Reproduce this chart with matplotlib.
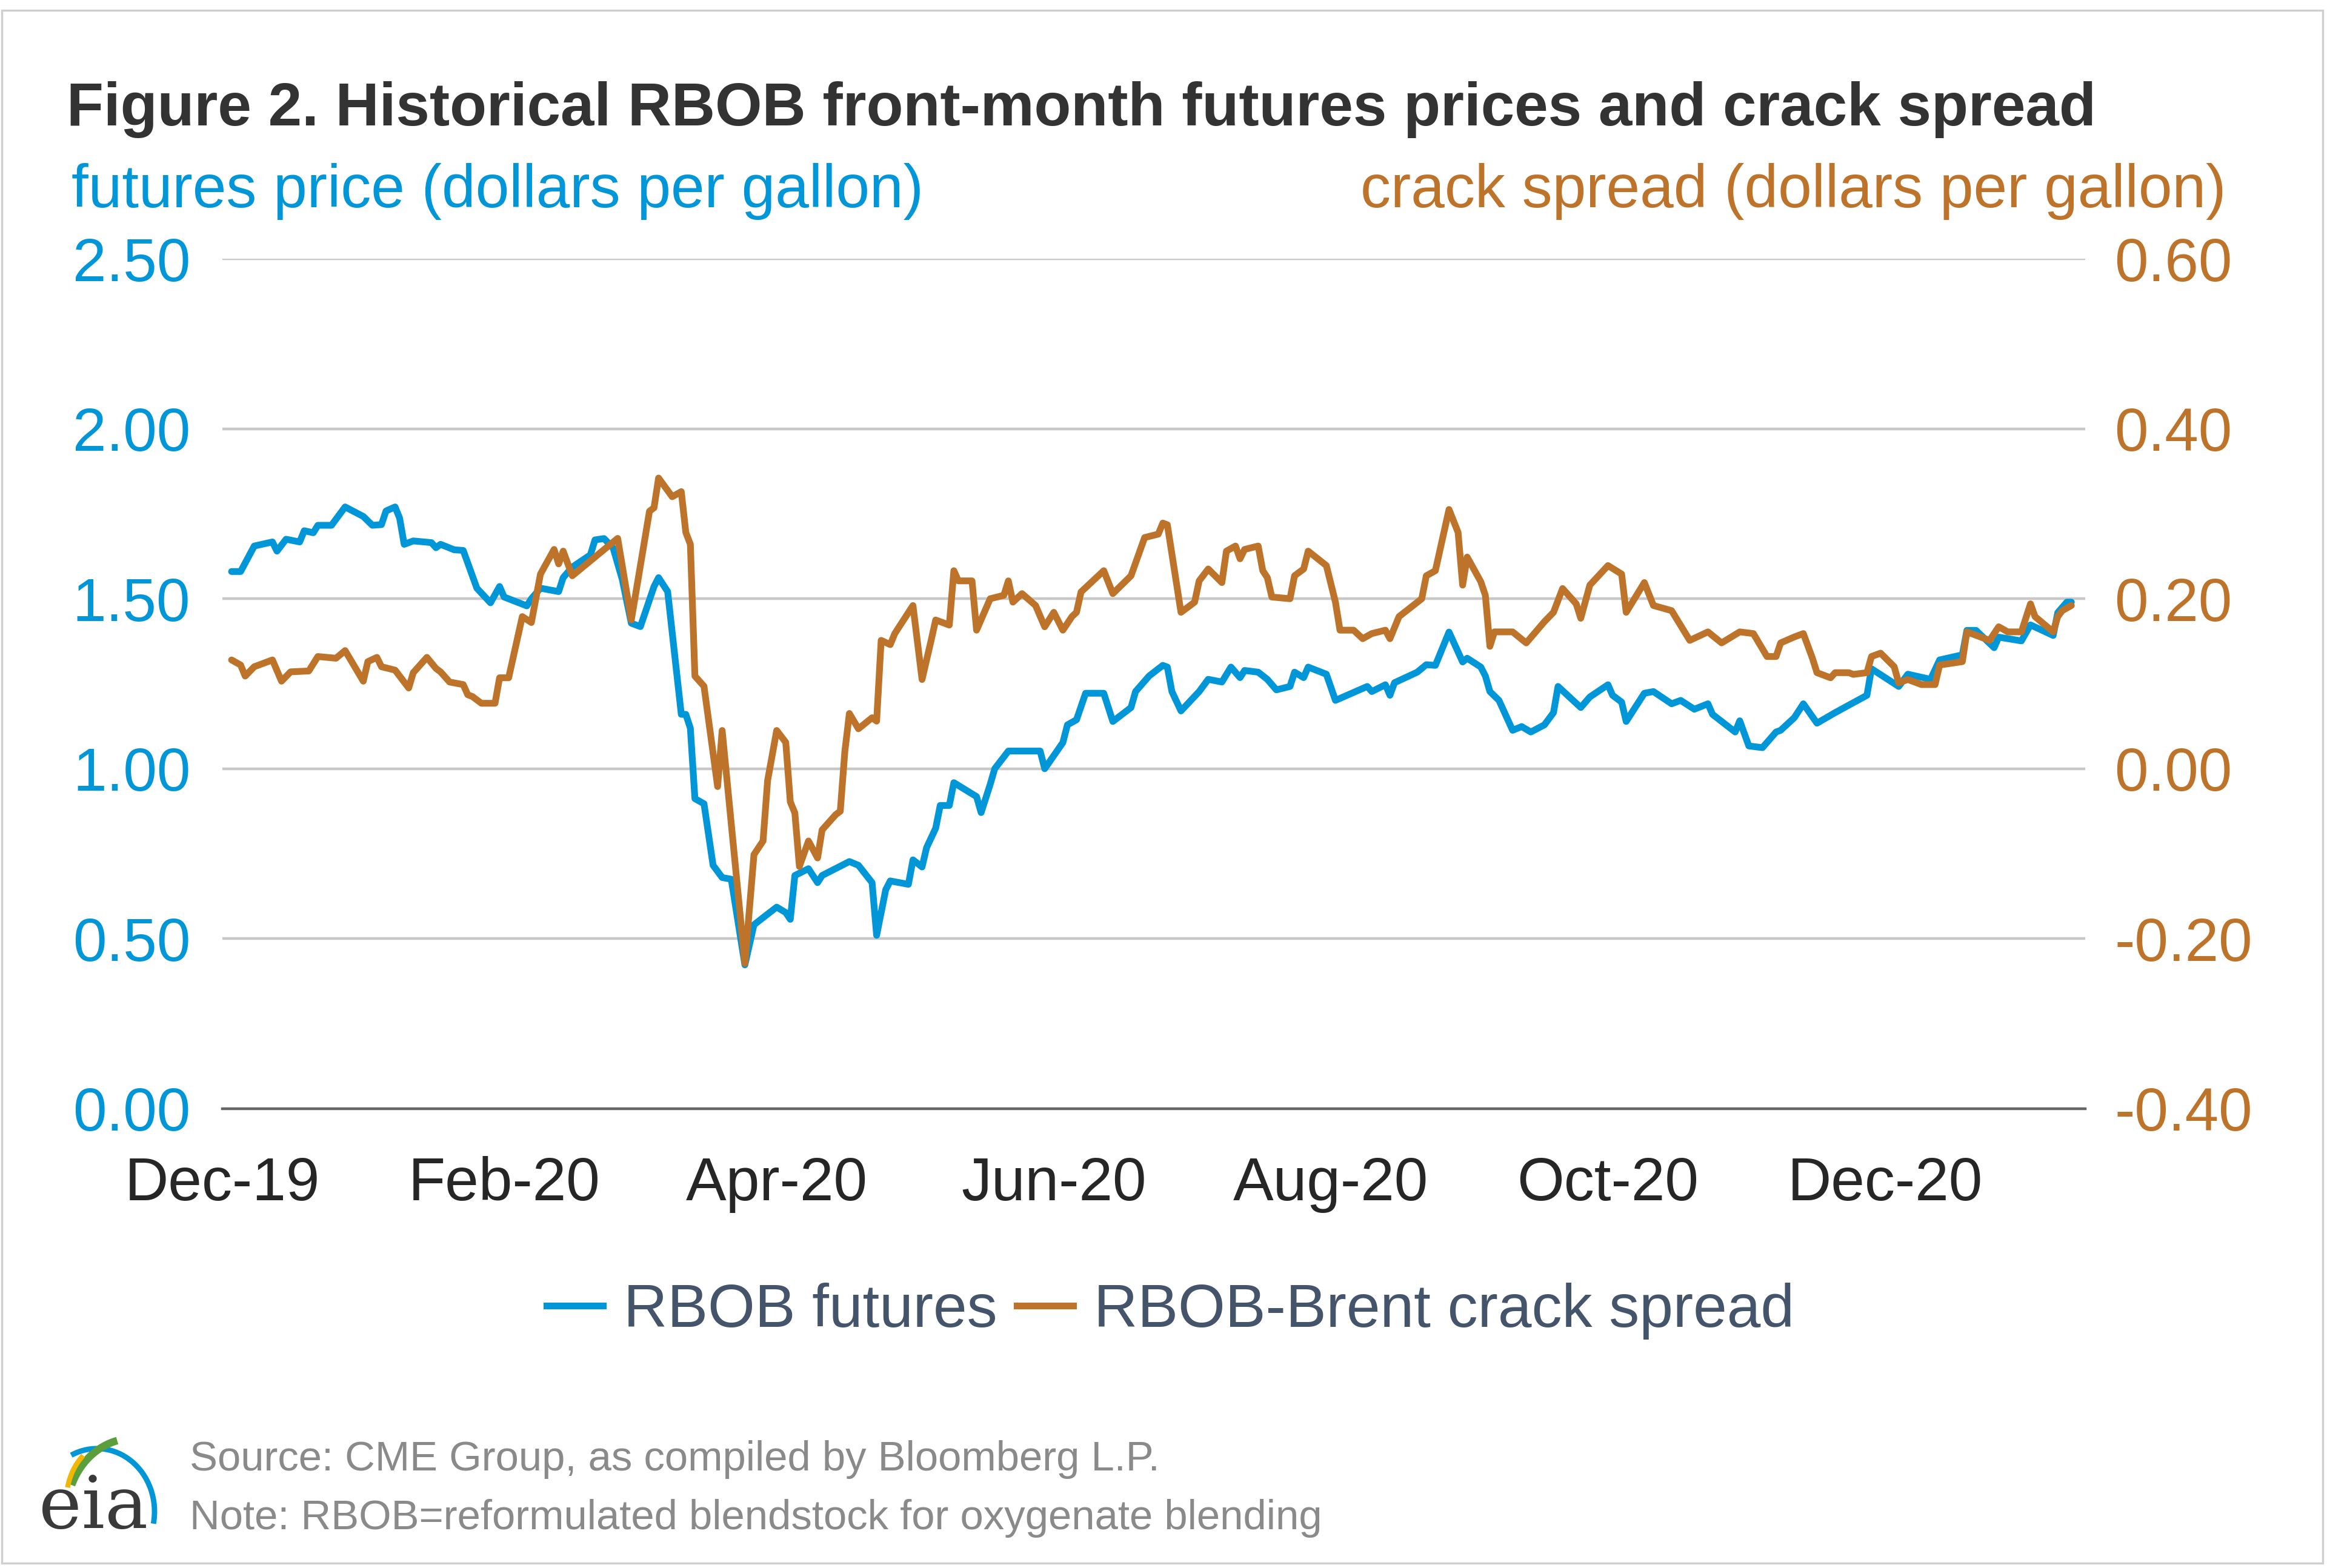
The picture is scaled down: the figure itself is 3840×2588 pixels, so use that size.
import matplotlib
matplotlib.use("Agg")
import matplotlib.pyplot as plt
import matplotlib.dates as mdates
from matplotlib.ticker import FormatStrFormatter, FixedLocator
from matplotlib.lines import Line2D
from matplotlib.patches import Rectangle, Arc
import numpy as np
import pandas as pd

plt.rcParams['font.family'] = ['Liberation Sans', 'DejaVu Sans']

# ---------------- data ----------------
rbob_dates = [
    "2019-12-03", "2019-12-05", "2019-12-08", "2019-12-12", "2019-12-13", "2019-12-15",
    "2019-12-18", "2019-12-19", "2019-12-21", "2019-12-22", "2019-12-25", "2019-12-28",
    "2020-01-01", "2020-01-03", "2020-01-05", "2020-01-06", "2020-01-08", "2020-01-09",
    "2020-01-10", "2020-01-12", "2020-01-16", "2020-01-17", "2020-01-18", "2020-01-21",
    "2020-01-23", "2020-01-26", "2020-01-29", "2020-01-31", "2020-02-01", "2020-02-06",
    "2020-02-07", "2020-02-09", "2020-02-13", "2020-02-14", "2020-02-16", "2020-02-20",
    "2020-02-21", "2020-02-23", "2020-02-25", "2020-02-27", "2020-02-29", "2020-03-02",
    "2020-03-05", "2020-03-06", "2020-03-08", "2020-03-11", "2020-03-12", "2020-03-13",
    "2020-03-14", "2020-03-16", "2020-03-18", "2020-03-20", "2020-03-22", "2020-03-25",
    "2020-03-27", "2020-03-29", "2020-04-01", "2020-04-03", "2020-04-04", "2020-04-05",
    "2020-04-08", "2020-04-10", "2020-04-11", "2020-04-17", "2020-04-19", "2020-04-22",
    "2020-04-23", "2020-04-25", "2020-04-26", "2020-04-30", "2020-05-01", "2020-05-03",
    "2020-05-04", "2020-05-06", "2020-05-07", "2020-05-09", "2020-05-10", "2020-05-15",
    "2020-05-16", "2020-05-18", "2020-05-19", "2020-05-22", "2020-05-29", "2020-05-30",
    "2020-06-03", "2020-06-04", "2020-06-06", "2020-06-08", "2020-06-12", "2020-06-14",
    "2020-06-18", "2020-06-19", "2020-06-22", "2020-06-25", "2020-06-26", "2020-06-27",
    "2020-06-29", "2020-07-03", "2020-07-05", "2020-07-08", "2020-07-10", "2020-07-12",
    "2020-07-13", "2020-07-16", "2020-07-18", "2020-07-20", "2020-07-23", "2020-07-24",
    "2020-07-26", "2020-07-27", "2020-07-31", "2020-08-02", "2020-08-09", "2020-08-10",
    "2020-08-13", "2020-08-14", "2020-08-15", "2020-08-20", "2020-08-22", "2020-08-24",
    "2020-08-27", "2020-08-30", "2020-08-31", "2020-09-03", "2020-09-04", "2020-09-05",
    "2020-09-07", "2020-09-10", "2020-09-12", "2020-09-14", "2020-09-17", "2020-09-19",
    "2020-09-20", "2020-09-25", "2020-09-27", "2020-10-01", "2020-10-02", "2020-10-04",
    "2020-10-05", "2020-10-09", "2020-10-11", "2020-10-15", "2020-10-17", "2020-10-20",
    "2020-10-23", "2020-10-24", "2020-10-29", "2020-10-30", "2020-11-01", "2020-11-04",
    "2020-11-07", "2020-11-08", "2020-11-11", "2020-11-13", "2020-11-16", "2020-11-20",
    "2020-11-27", "2020-11-28", "2020-12-04", "2020-12-06", "2020-12-11", "2020-12-13",
    "2020-12-18", "2020-12-19", "2020-12-21", "2020-12-25", "2020-12-26", "2020-12-31",
    "2021-01-02", "2021-01-07", "2021-01-08", "2021-01-10", "2021-01-11",
]
rbob_values = [
    1.58, 1.58, 1.655, 1.667, 1.64, 1.675,
    1.667, 1.70, 1.694, 1.716, 1.716, 1.77,
    1.742, 1.716, 1.718, 1.758, 1.77, 1.737,
    1.66, 1.67, 1.665, 1.65, 1.66, 1.644,
    1.642, 1.531, 1.488, 1.536, 1.505, 1.479,
    1.50, 1.531, 1.521, 1.562, 1.593, 1.629,
    1.673, 1.677, 1.649, 1.557, 1.428, 1.418,
    1.536, 1.562, 1.521, 1.16, 1.16, 1.119,
    0.912, 0.897, 0.716, 0.68, 0.675, 0.423,
    0.541, 0.562, 0.593, 0.577, 0.557, 0.686,
    0.706, 0.665, 0.686, 0.727, 0.716, 0.665,
    0.51, 0.644, 0.67, 0.66, 0.732, 0.711,
    0.768, 0.825, 0.892, 0.892, 0.959, 0.918,
    0.871, 0.954, 1.00, 1.052, 1.052, 1.00,
    1.077, 1.129, 1.144, 1.222, 1.222, 1.139,
    1.18, 1.227, 1.273, 1.304, 1.299, 1.227,
    1.17, 1.227, 1.263, 1.255, 1.299, 1.268,
    1.289, 1.284, 1.263, 1.232, 1.242, 1.284,
    1.268, 1.299, 1.278, 1.201, 1.242, 1.227,
    1.247, 1.216, 1.253, 1.284, 1.306, 1.304,
    1.402, 1.314, 1.325, 1.299, 1.273, 1.227,
    1.201, 1.113, 1.124, 1.108, 1.129, 1.165,
    1.242, 1.18, 1.211, 1.247, 1.216, 1.196,
    1.139, 1.222, 1.227, 1.191, 1.201, 1.175,
    1.191, 1.16, 1.108, 1.141, 1.067, 1.062,
    1.108, 1.113, 1.15, 1.191, 1.134, 1.165,
    1.216, 1.294, 1.242, 1.278, 1.263, 1.32,
    1.335, 1.407, 1.407, 1.356, 1.387, 1.376,
    1.423, 1.392, 1.459, 1.49, 1.49,
]

crack_dates = [
    "2019-12-03", "2019-12-05", "2019-12-06", "2019-12-08", "2019-12-12", "2019-12-14",
    "2019-12-16", "2019-12-20", "2019-12-22", "2019-12-26", "2019-12-28",
    "2020-01-01", "2020-01-02", "2020-01-04", "2020-01-05", "2020-01-08", "2020-01-11",
    "2020-01-12", "2020-01-15", "2020-01-17", "2020-01-18", "2020-01-20", "2020-01-23",
    "2020-01-24", "2020-01-25", "2020-01-27", "2020-01-30", "2020-01-31",
    "2020-02-02", "2020-02-05", "2020-02-07", "2020-02-09", "2020-02-12", "2020-02-13",
    "2020-02-14", "2020-02-16", "2020-02-21", "2020-02-26", "2020-02-29",
    "2020-03-04", "2020-03-05", "2020-03-06", "2020-03-09", "2020-03-11", "2020-03-12",
    "2020-03-13", "2020-03-14", "2020-03-16", "2020-03-19", "2020-03-20", "2020-03-25",
    "2020-03-27", "2020-03-29", "2020-03-30",
    "2020-04-01", "2020-04-03", "2020-04-04", "2020-04-05", "2020-04-06", "2020-04-08",
    "2020-04-10", "2020-04-11", "2020-04-14", "2020-04-15", "2020-04-16", "2020-04-17",
    "2020-04-19", "2020-04-22", "2020-04-23", "2020-04-24", "2020-04-26", "2020-04-27",
    "2020-05-01", "2020-05-03", "2020-05-05", "2020-05-06", "2020-05-09", "2020-05-10",
    "2020-05-11", "2020-05-14", "2020-05-15", "2020-05-18", "2020-05-21", "2020-05-22",
    "2020-05-23", "2020-05-25", "2020-05-28", "2020-05-30",
    "2020-06-01", "2020-06-03", "2020-06-05", "2020-06-06", "2020-06-07", "2020-06-12",
    "2020-06-14", "2020-06-18", "2020-06-21", "2020-06-24", "2020-06-25", "2020-06-26",
    "2020-06-29",
    "2020-07-02", "2020-07-03", "2020-07-05", "2020-07-08", "2020-07-09", "2020-07-11",
    "2020-07-12", "2020-07-13", "2020-07-16", "2020-07-17", "2020-07-18", "2020-07-19",
    "2020-07-23", "2020-07-24", "2020-07-26", "2020-07-27", "2020-07-31",
    "2020-08-02", "2020-08-03", "2020-08-06", "2020-08-08", "2020-08-10", "2020-08-13",
    "2020-08-14", "2020-08-16", "2020-08-21", "2020-08-22", "2020-08-24", "2020-08-27",
    "2020-08-29", "2020-08-30", "2020-08-31",
    "2020-09-03", "2020-09-04", "2020-09-05", "2020-09-06", "2020-09-10", "2020-09-13",
    "2020-09-17", "2020-09-19", "2020-09-21", "2020-09-24", "2020-09-25", "2020-09-27",
    "2020-10-01", "2020-10-04", "2020-10-05", "2020-10-09", "2020-10-11", "2020-10-15",
    "2020-10-19", "2020-10-23", "2020-10-26", "2020-10-30",
    "2020-11-02", "2020-11-05", "2020-11-07", "2020-11-08", "2020-11-11", "2020-11-13",
    "2020-11-15", "2020-11-16", "2020-11-19", "2020-11-20", "2020-11-23", "2020-11-24",
    "2020-11-27", "2020-11-28", "2020-11-30",
    "2020-12-03", "2020-12-04", "2020-12-06", "2020-12-09", "2020-12-12", "2020-12-13",
    "2020-12-18", "2020-12-19", "2020-12-24", "2020-12-26", "2020-12-28", "2020-12-31",
    "2021-01-02", "2021-01-03", "2021-01-07", "2021-01-08", "2021-01-09", "2021-01-11",
]
crack_values = [
    0.128, 0.122, 0.109, 0.12, 0.128, 0.103,
    0.114, 0.115, 0.132, 0.13, 0.139,
    0.103, 0.126, 0.131, 0.12, 0.116, 0.095,
    0.113, 0.131, 0.118, 0.114, 0.102, 0.099,
    0.087, 0.085, 0.077, 0.077, 0.107,
    0.107, 0.179, 0.172, 0.229, 0.258, 0.241,
    0.256, 0.227, 0.249, 0.271, 0.175,
    0.303, 0.307, 0.342, 0.32, 0.326, 0.278,
    0.264, 0.109, 0.097, -0.021, 0.045, -0.229,
    -0.101, -0.085, -0.014,
    0.045, 0.031, -0.039, -0.052, -0.115, -0.085,
    -0.105, -0.072, -0.054, -0.05, 0.02, 0.065,
    0.047, 0.06, 0.056, 0.151, 0.146, 0.159,
    0.192, 0.105, 0.151, 0.175, 0.169, 0.233,
    0.221, 0.221, 0.163, 0.20, 0.204, 0.221,
    0.196, 0.206, 0.192, 0.167,
    0.184, 0.163, 0.179, 0.184, 0.208, 0.233,
    0.206, 0.227, 0.272, 0.276, 0.289, 0.287,
    0.184,
    0.196, 0.221, 0.235, 0.219, 0.256, 0.262,
    0.247, 0.258, 0.262, 0.233, 0.225, 0.202,
    0.20, 0.227, 0.235, 0.256, 0.239,
    0.196, 0.163, 0.163, 0.153, 0.159, 0.163,
    0.153, 0.179, 0.20, 0.227, 0.233, 0.305,
    0.278, 0.216, 0.249,
    0.22, 0.204, 0.144, 0.161, 0.161, 0.148,
    0.173, 0.184, 0.212, 0.194, 0.177, 0.216,
    0.239, 0.229, 0.184, 0.219, 0.192, 0.186,
    0.151, 0.161, 0.148, 0.161,
    0.159, 0.132, 0.132, 0.148, 0.155, 0.159,
    0.13, 0.113, 0.107, 0.113, 0.113, 0.111,
    0.113, 0.132, 0.136,
    0.12, 0.101, 0.105, 0.099, 0.099, 0.122,
    0.126, 0.161, 0.151, 0.167, 0.161, 0.161,
    0.194, 0.179, 0.161, 0.179, 0.186, 0.192,
]

left_ticks = [0.0, 0.5, 1.0, 1.5, 2.0, 2.5]
right_ticks = [-0.4, -0.2, 0.0, 0.2, 0.4, 0.6]
x_start, x_end = "2019-12-01", "2021-01-14"

series_labels = ["RBOB futures", "RBOB-Brent crack spread"]
title = "Figure 2. Historical RBOB front-month futures prices and crack spread"
left_label = "futures price (dollars per gallon)"
right_label = "crack spread (dollars per gallon)"
source_text = "Source: CME Group, as compiled by Bloomberg L.P."
note_text = "Note: RBOB=reformulated blendstock for oxygenate blending"

# ---------------- styling ----------------
BLUE = "#0096D7"
ORANGE = "#BD732A"
GRID = "#C8C8C8"
TXT = "#262626"
LW = 4.0

fig = plt.figure(figsize=(19.2, 12.94), dpi=200)
ax = fig.add_axes([0.0956, 0.2929, 0.896 - 0.0956, 0.835 - 0.2929])
ax2 = ax.twinx()

ax.plot(pd.to_datetime(rbob_dates), rbob_values, color=BLUE, lw=LW,
        solid_joinstyle="round", solid_capstyle="round", zorder=3)
ax2.plot(pd.to_datetime(crack_dates), crack_values, color=ORANGE, lw=LW,
         solid_joinstyle="round", solid_capstyle="round", zorder=3)

ax.set_xlim(pd.Timestamp(x_start), pd.Timestamp(x_end))
ax.set_ylim(left_ticks[0], left_ticks[-1])
ax2.set_ylim(right_ticks[0], right_ticks[-1])
ax.yaxis.set_major_locator(FixedLocator(left_ticks))
ax2.yaxis.set_major_locator(FixedLocator(right_ticks))
ax.yaxis.set_major_formatter(FormatStrFormatter("%.2f"))
ax2.yaxis.set_major_formatter(FormatStrFormatter("%.2f"))

ax.xaxis.set_major_locator(mdates.MonthLocator(bymonth=[2, 4, 6, 8, 10, 12]))
ax.xaxis.set_major_formatter(mdates.DateFormatter("%b-%y"))

ax.yaxis.grid(True, color=GRID, lw=1.6)
ax.set_axisbelow(True)
for a in (ax, ax2):
    for s in ("top", "left", "right", "bottom"):
        a.spines[s].set_visible(False)
ax.spines["bottom"].set_visible(True)
ax.spines["bottom"].set_color("#666666")
ax.spines["bottom"].set_linewidth(1.6)

ax.tick_params(axis="y", length=0, pad=19, labelsize=36, labelcolor=BLUE)
ax2.tick_params(axis="y", length=0, pad=17.5, labelsize=36, labelcolor=ORANGE)
ax.tick_params(axis="x", length=0, pad=28, labelsize=36, labelcolor=TXT)

# ---------------- texts ----------------
fig.text(0.0287, 0.930, title, fontsize=35.9, fontweight="bold", color="#333333",
         ha="left", va="center")
fig.text(0.0307, 0.878, left_label, fontsize=36, color=BLUE, ha="left", va="center")
fig.text(0.9566, 0.878, right_label, fontsize=36, color=ORANGE, ha="right", va="center")

handles = [Line2D([], [], color=BLUE, lw=LW), Line2D([], [], color=ORANGE, lw=LW)]
fig.legend(handles, series_labels, loc="center", bbox_to_anchor=(0.503, 0.164), ncol=2,
           frameon=False, fontsize=36, handlelength=0.93, handletextpad=0.34,
           columnspacing=0.32, labelcolor="#44546A")

fig.text(0.0816, 0.069, source_text, fontsize=24.8, color="#8A8A8A", ha="left", va="center")
fig.text(0.0816, 0.0315, note_text, fontsize=24.8, color="#8A8A8A", ha="left", va="center")

# ---------------- eia logo (approximate) ----------------
lax = fig.add_axes([0.0156, 0.0224, 0.0521, 0.0618])
lax.set_xlim(0, 1)
lax.set_ylim(0, 1)
lax.axis("off")
lax.text(0.02, 0.05, "eia", fontsize=43, family="DejaVu Serif", color="#3a3a3a",
         ha="left", va="baseline")
lax.add_patch(Arc((0.50, 0.22), 0.95, 1.30, theta1=-15, theta2=110, color=BLUE, lw=3.2))
lax.add_patch(Arc((0.80, 0.20), 1.10, 1.55, theta1=100, theta2=150, color="#5B9E3C", lw=4.5))
lax.add_patch(Arc((0.70, 0.35), 0.90, 1.25, theta1=125, theta2=165, color="#F2B705", lw=3))

# ---------------- border ----------------
fig.add_artist(Rectangle((3 / 3840, 1 - 2580 / 2588), (3833 - 3) / 3840, (2580 - 17) / 2588,
                         transform=fig.transFigure, fill=False, ec="#CFCFCF", lw=1.2))

fig.savefig("out.png", dpi=200)
